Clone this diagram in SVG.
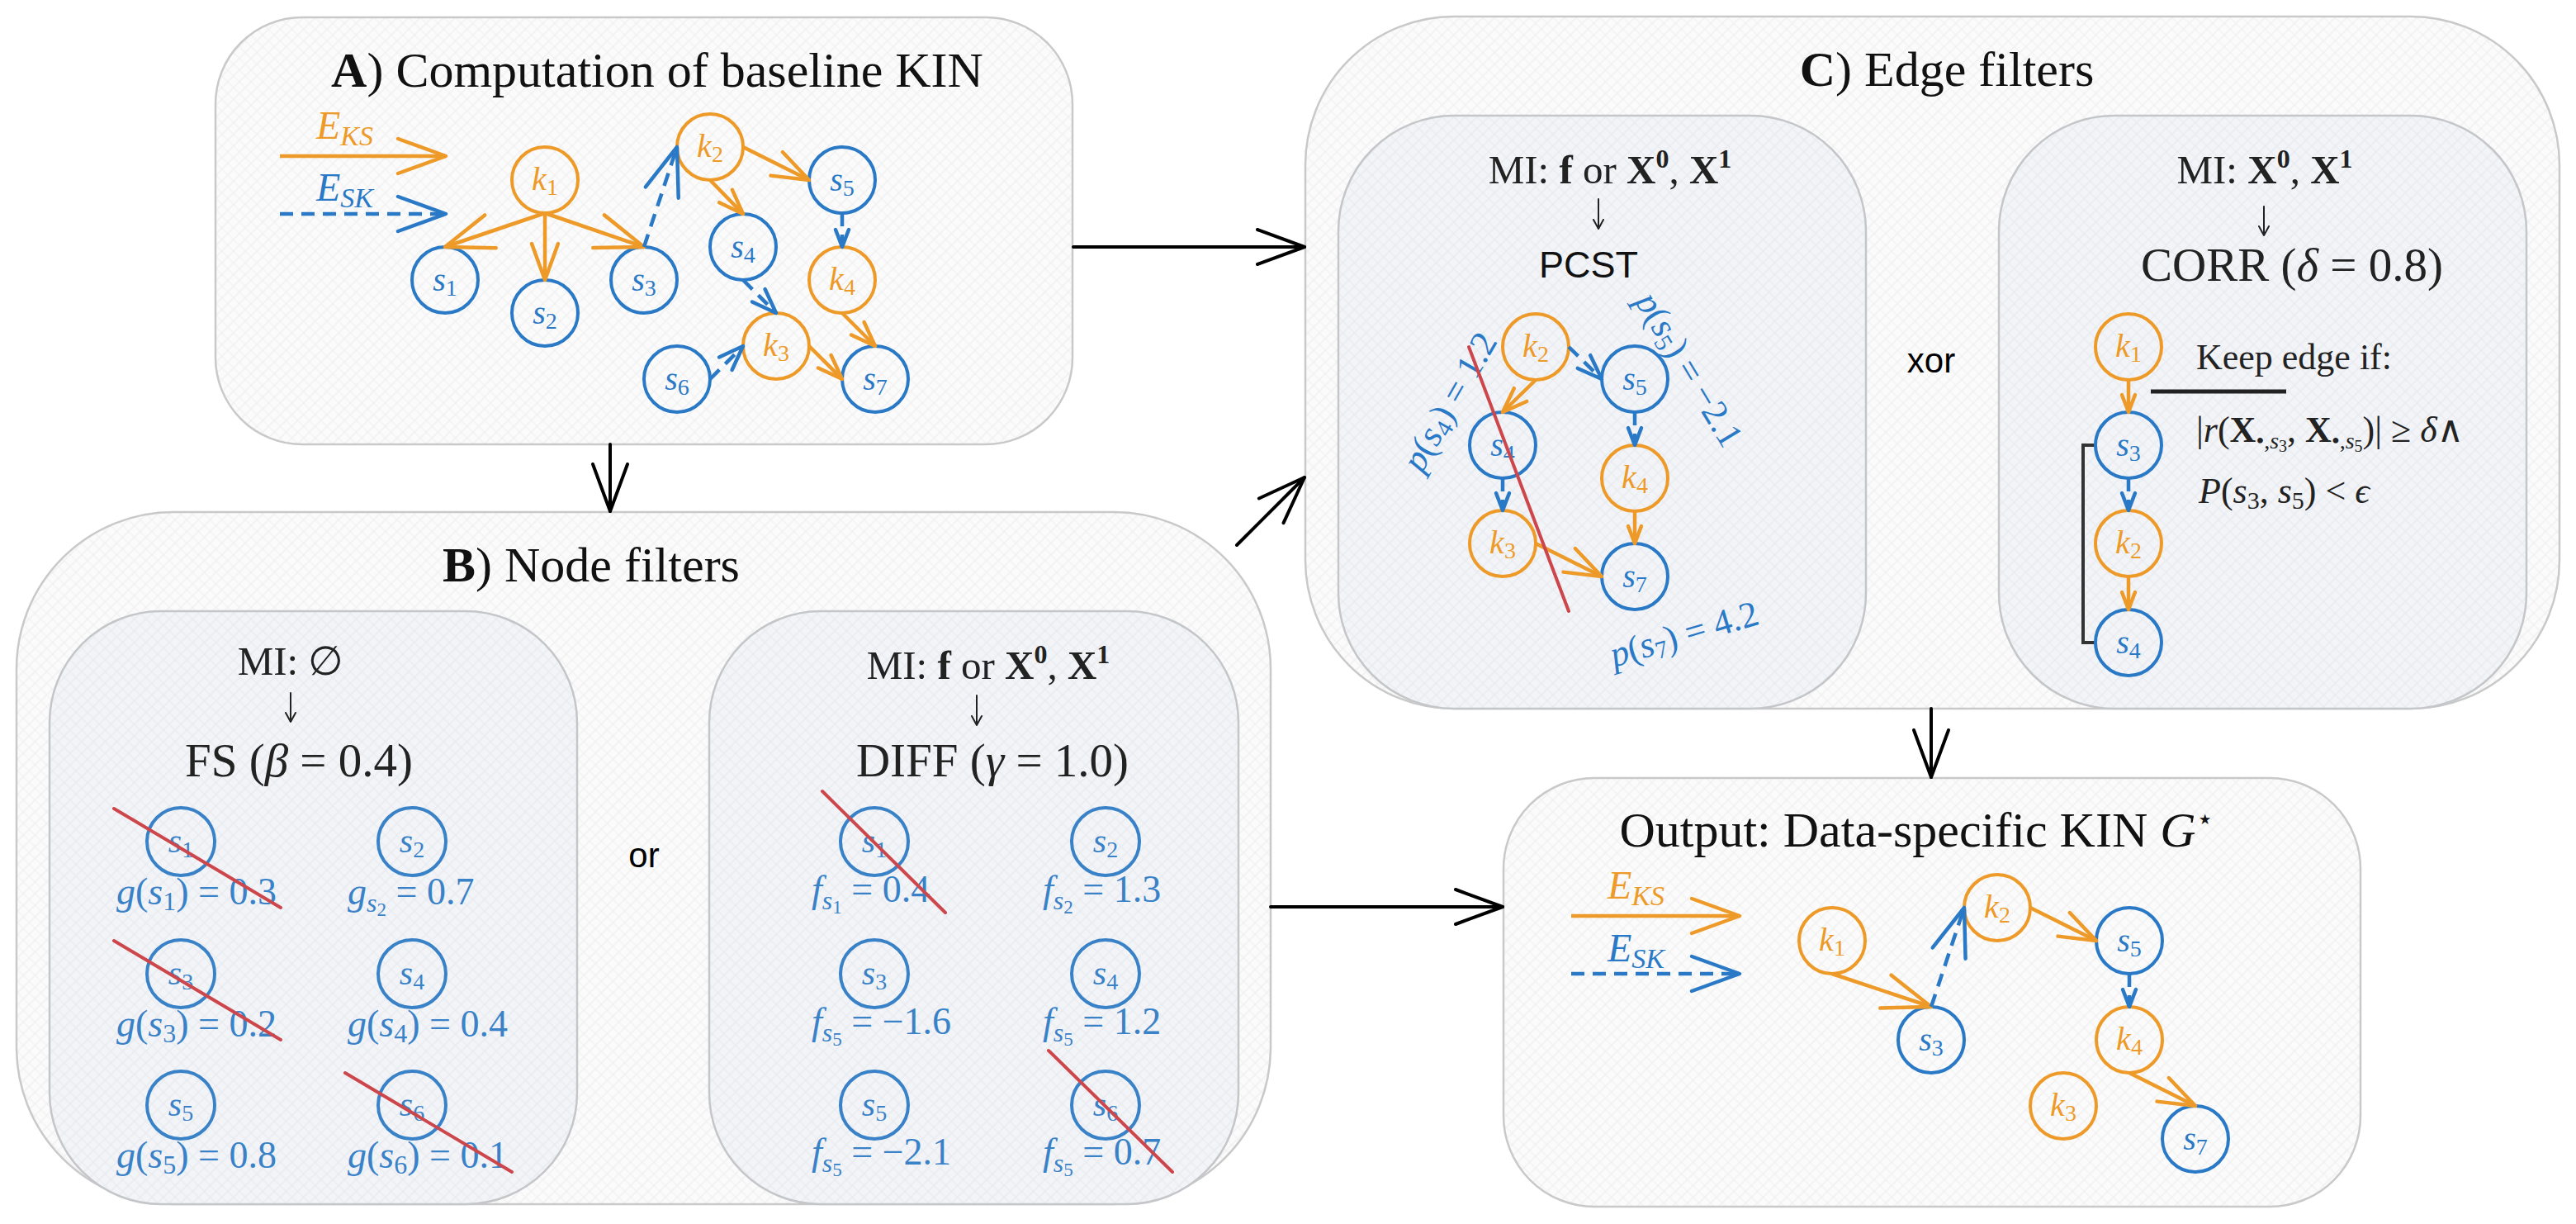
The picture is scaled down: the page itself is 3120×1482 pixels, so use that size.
<svg xmlns="http://www.w3.org/2000/svg" width="3120" height="1482" viewBox="0 0 3120 1482">
<defs>
<pattern id="hO" width="10" height="10" patternUnits="userSpaceOnUse" patternTransform="rotate(45)">
<rect width="10" height="10" fill="#fbfbfb"/>
<path d="M0,5H10M5,0V10" stroke="#efefef" stroke-width="1.2"/>
</pattern>
<pattern id="hI" width="10" height="10" patternUnits="userSpaceOnUse" patternTransform="rotate(45)">
<rect width="10" height="10" fill="#f2f4f7"/>
<path d="M0,5H10M5,0V10" stroke="#e6e9ee" stroke-width="1.2"/>
</pattern>
<marker id="oL" markerUnits="userSpaceOnUse" orient="auto" viewBox="-70 -30 80 60" markerWidth="80" markerHeight="60" refX="0" refY="0"><path class="mo" d="M-58,-21L0,0L-58,21"/></marker>
<marker id="oM" markerUnits="userSpaceOnUse" orient="auto" viewBox="-70 -30 80 60" markerWidth="80" markerHeight="60" refX="0" refY="0"><path class="mo" d="M-44,-16L0,0L-44,16"/></marker>
<marker id="oS2" markerUnits="userSpaceOnUse" orient="auto" viewBox="-70 -30 80 60" markerWidth="80" markerHeight="60" refX="0" refY="0"><path class="mo" d="M-30,-11L0,0L-30,11"/></marker>
<marker id="oS" markerUnits="userSpaceOnUse" orient="auto" viewBox="-70 -30 80 60" markerWidth="80" markerHeight="60" refX="0" refY="0"><path class="mo" d="M-21,-8L0,0L-21,8"/></marker>
<marker id="bL" markerUnits="userSpaceOnUse" orient="auto" viewBox="-70 -30 80 60" markerWidth="80" markerHeight="60" refX="0" refY="0"><path class="mb" d="M-58,-21L0,0L-58,21"/></marker>
<marker id="bM" markerUnits="userSpaceOnUse" orient="auto" viewBox="-70 -30 80 60" markerWidth="80" markerHeight="60" refX="0" refY="0"><path class="mb" d="M-44,-16L0,0L-44,16"/></marker>
<marker id="bS2" markerUnits="userSpaceOnUse" orient="auto" viewBox="-70 -30 80 60" markerWidth="80" markerHeight="60" refX="0" refY="0"><path class="mb" d="M-30,-11L0,0L-30,11"/></marker>
<marker id="bS" markerUnits="userSpaceOnUse" orient="auto" viewBox="-70 -30 80 60" markerWidth="80" markerHeight="60" refX="0" refY="0"><path class="mb" d="M-21,-8L0,0L-21,8"/></marker>
<marker id="kL" markerUnits="userSpaceOnUse" orient="auto" viewBox="-70 -30 80 60" markerWidth="80" markerHeight="60" refX="0" refY="0"><path class="mk" d="M-57,-21L0,0L-57,21"/></marker>
<style>
.pO{fill:url(#hO);stroke:#c9c9c9;stroke-width:2.5}
.pI{fill:url(#hI);stroke:#c4c6c9;stroke-width:2.5}
.mo{fill:none;stroke:#EE9A28;stroke-width:4.5;stroke-linecap:round;stroke-linejoin:round}
.mb{fill:none;stroke:#2A79C6;stroke-width:4.5;stroke-linecap:round;stroke-linejoin:round}
.mk{fill:none;stroke:#000;stroke-width:4;stroke-linecap:round;stroke-linejoin:round}
.eo{fill:none;stroke:#EE9A28;stroke-width:4.5}
.eb{fill:none;stroke:#2A79C6;stroke-width:4.5;stroke-dasharray:16 10}
.ck{fill:none;stroke:#000;stroke-width:4;stroke-linecap:round}
.strike{stroke:#CD464B;stroke-width:4;stroke-linecap:round}
.sans{font-family:"Liberation Sans",Arial,sans-serif}
.ttl{font-family:"Liberation Serif","DejaVu Serif",serif;font-size:60px;fill:#111;text-anchor:middle}
.mi{font-family:"Liberation Serif","DejaVu Serif",serif;font-size:49px;fill:#222;text-anchor:middle}
.st{font-family:"Liberation Serif","DejaVu Serif",serif;font-size:57px;fill:#222;text-anchor:middle}
.kn circle{fill:none;stroke:#EE9A28;stroke-width:4}
.sn circle{fill:none;stroke:#2A79C6;stroke-width:4}
.bn circle{fill:none;stroke:#3A82C8;stroke-width:4}
.kn text,.sn text,.bn text{font-family:"Liberation Serif","DejaVu Serif",serif;font-size:40px;text-anchor:middle}
.kn text{fill:#EE9A28}
.sn text{fill:#2A79C6}
.bn text{fill:#3A82C8;font-size:42px}
.it{font-style:italic}
.sb{font-size:28px}
.lgo{font-family:"Liberation Serif",serif;font-size:48px;fill:#EE9A28;font-style:italic}
.lgb{font-family:"Liberation Serif",serif;font-size:48px;fill:#2A79C6;font-style:italic}
.bl{font-family:"Liberation Serif","DejaVu Serif",serif;font-size:46px;fill:#3A82C8}
.pl{font-family:"Liberation Serif","DejaVu Serif",serif;font-size:44px;fill:#2A79C6;text-anchor:middle}
.cm{font-family:"Liberation Serif","DejaVu Serif",serif;font-size:44px;fill:#222}
.sa{fill:none;stroke:#222;stroke-width:2;stroke-linecap:round;stroke-linejoin:round}
</style>
</defs>

<!-- Panels -->
<g id="panel-A">
<rect class="pO" x="261" y="21" width="1038" height="517" rx="105"/>
<text class="ttl" x="796" y="105"><tspan font-weight="bold">A</tspan>) Computation of baseline KIN</text>
<line class="eo" x1="339" y1="189" x2="540" y2="189" marker-end="url(#oL)"/>
<line class="eb" x1="339" y1="259" x2="540" y2="259" marker-end="url(#bL)"/>
<text class="lgo" x="383" y="168">E<tspan font-size="34" dy="8">KS</tspan></text>
<text class="lgb" x="383" y="243">E<tspan font-size="34" dy="8">SK</tspan></text>
</g>

<g id="panel-B">
<rect class="pO" x="20" y="620" width="1519" height="838" rx="190"/>
<text class="ttl" x="716" y="704"><tspan font-weight="bold">B</tspan>) Node filters</text>
<text class="sans" x="780" y="1050" font-size="42" text-anchor="middle" fill="#000">or</text>
</g>

<g id="panel-FS">
<rect class="pI" x="60" y="740" width="639" height="718" rx="135"/>
<text class="mi" x="352" y="817">MI: ∅</text>
<path class="sa" d="M352,839V874M346,863L352,874L358,863"/>
<text class="st" x="362" y="940">FS (<tspan class="it">β</tspan> = 0.4)</text>
<text class="bl" x="141" y="1095"><tspan class="it">g</tspan>(<tspan class="it">s</tspan><tspan font-size="32" dy="7">1</tspan><tspan dy="-7">) = 0.3</tspan></text>
<text class="bl" x="421" y="1095"><tspan class="it">g</tspan><tspan class="it" font-size="32" dy="9">s</tspan><tspan font-size="23" dy="5">2</tspan><tspan dy="-14"> = 0.7</tspan></text>
<text class="bl" x="141" y="1255"><tspan class="it">g</tspan>(<tspan class="it">s</tspan><tspan font-size="32" dy="7">3</tspan><tspan dy="-7">) = 0.2</tspan></text>
<text class="bl" x="421" y="1255"><tspan class="it">g</tspan>(<tspan class="it">s</tspan><tspan font-size="32" dy="7">4</tspan><tspan dy="-7">) = 0.4</tspan></text>
<text class="bl" x="141" y="1414"><tspan class="it">g</tspan>(<tspan class="it">s</tspan><tspan font-size="32" dy="7">5</tspan><tspan dy="-7">) = 0.8</tspan></text>
<text class="bl" x="421" y="1414"><tspan class="it">g</tspan>(<tspan class="it">s</tspan><tspan font-size="32" dy="7">6</tspan><tspan dy="-7">) = 0.1</tspan></text>
</g>

<g id="panel-DIFF">
<rect class="pI" x="859" y="740" width="641" height="718" rx="135"/>
<text class="mi" x="1197" y="822">MI: <tspan font-weight="bold">f</tspan> or <tspan font-weight="bold">X</tspan><tspan font-weight="bold" font-size="32" dy="-19">0</tspan><tspan dy="19">, </tspan><tspan font-weight="bold">X</tspan><tspan font-weight="bold" font-size="32" dy="-19">1</tspan></text>
<path class="sa" d="M1183,842V878M1177,867L1183,878L1189,867"/>
<text class="st" x="1202" y="940">DIFF (<tspan class="it">γ</tspan> = 1.0)</text>
<text class="bl" x="983" y="1092"><tspan class="it">f</tspan><tspan class="it" font-size="32" dy="9">s</tspan><tspan font-size="23" dy="5">1</tspan><tspan dy="-14"> = 0.4</tspan></text>
<text class="bl" x="1263" y="1092"><tspan class="it">f</tspan><tspan class="it" font-size="32" dy="9">s</tspan><tspan font-size="23" dy="5">2</tspan><tspan dy="-14"> = 1.3</tspan></text>
<text class="bl" x="983" y="1252"><tspan class="it">f</tspan><tspan class="it" font-size="32" dy="9">s</tspan><tspan font-size="23" dy="5">5</tspan><tspan dy="-14"> = −1.6</tspan></text>
<text class="bl" x="1263" y="1252"><tspan class="it">f</tspan><tspan class="it" font-size="32" dy="9">s</tspan><tspan font-size="23" dy="5">5</tspan><tspan dy="-14"> = 1.2</tspan></text>
<text class="bl" x="983" y="1410"><tspan class="it">f</tspan><tspan class="it" font-size="32" dy="9">s</tspan><tspan font-size="23" dy="5">5</tspan><tspan dy="-14"> = −2.1</tspan></text>
<text class="bl" x="1263" y="1410"><tspan class="it">f</tspan><tspan class="it" font-size="32" dy="9">s</tspan><tspan font-size="23" dy="5">5</tspan><tspan dy="-14"> = 0.7</tspan></text>
</g>

<g id="panel-C">
<rect class="pO" x="1581" y="20" width="1519" height="838" rx="180"/>
<text class="ttl" x="2358" y="104"><tspan font-weight="bold">C</tspan>) Edge filters</text>
<text class="sans" x="2339" y="451" font-size="42" text-anchor="middle" fill="#000">xor</text>
</g>

<g id="panel-PCST">
<rect class="pI" x="1621" y="140" width="639" height="718" rx="140"/>
<text class="mi" x="1950" y="222">MI: <tspan font-weight="bold">f</tspan> or <tspan font-weight="bold">X</tspan><tspan font-weight="bold" font-size="32" dy="-19">0</tspan><tspan dy="19">, </tspan><tspan font-weight="bold">X</tspan><tspan font-weight="bold" font-size="32" dy="-19">1</tspan></text>
<path class="sa" d="M1936,241V277M1930,266L1936,277L1942,266"/>
<text class="sans" x="1924" y="336" font-size="45" text-anchor="middle" fill="#111">PCST</text>
<text class="pl" transform="translate(1757,487) rotate(-60)" y="13"><tspan class="it">p</tspan>(<tspan class="it">s</tspan><tspan font-size="30" dy="6">4</tspan><tspan dy="-6">) = 1.2</tspan></text>
<text class="pl" transform="translate(2045,448) rotate(59)" y="13"><tspan class="it">p</tspan>(<tspan class="it">s</tspan><tspan font-size="30" dy="6">5</tspan><tspan dy="-6">) = −2.1</tspan></text>
<text class="pl" transform="translate(2040,769) rotate(-16.5)" y="13"><tspan class="it">p</tspan>(<tspan class="it">s</tspan><tspan font-size="30" dy="6">7</tspan><tspan dy="-6">) = 4.2</tspan></text>
</g>

<g id="panel-CORR">
<rect class="pI" x="2421" y="140" width="639" height="718" rx="140"/>
<text class="mi" x="2743" y="222">MI: <tspan font-weight="bold">X</tspan><tspan font-weight="bold" font-size="32" dy="-19">0</tspan><tspan dy="19">, </tspan><tspan font-weight="bold">X</tspan><tspan font-weight="bold" font-size="32" dy="-19">1</tspan></text>
<path class="sa" d="M2742,250V285M2736,274L2742,285L2748,274"/>
<text class="st" x="2776" y="340">CORR (<tspan class="it">δ</tspan> = 0.8)</text>
<text class="cm" x="2660" y="447">Keep edge if:</text>
<line x1="2605" y1="474" x2="2769" y2="474" stroke="#222" stroke-width="5"/>
<text class="cm" x="2660" y="535">|<tspan class="it">r</tspan>(<tspan font-weight="bold">X</tspan><tspan font-size="28" dy="8">•,</tspan><tspan class="it" font-size="28">s</tspan><tspan font-size="20" dy="4">3</tspan><tspan dy="-12">, </tspan><tspan font-weight="bold">X</tspan><tspan font-size="28" dy="8">•,</tspan><tspan class="it" font-size="28">s</tspan><tspan font-size="20" dy="4">5</tspan><tspan dy="-12">)| ≥ </tspan><tspan class="it">δ</tspan>∧</text>
<text class="cm" x="2663" y="609"><tspan class="it">P</tspan>(<tspan class="it">s</tspan><tspan font-size="30" dy="7">3</tspan><tspan dy="-7">, </tspan><tspan class="it">s</tspan><tspan font-size="30" dy="7">5</tspan><tspan dy="-7">) &lt; </tspan><tspan class="it">ϵ</tspan></text>
<path d="M2538,539H2523V778H2538" fill="none" stroke="#333" stroke-width="4"/>
</g>

<g id="panel-Output">
<rect class="pO" x="1821" y="942" width="1038" height="519" rx="110"/>
<text class="ttl" x="2321" y="1025">Output: Data-specific KIN <tspan class="it">G</tspan><tspan font-size="34" dy="-22">⋆</tspan></text>
<line class="eo" x1="1903" y1="1109" x2="2107" y2="1109" marker-end="url(#oL)"/>
<line class="eb" x1="1903" y1="1179" x2="2107" y2="1179" marker-end="url(#bL)"/>
<text class="lgo" x="1947" y="1088">E<tspan font-size="34" dy="8">KS</tspan></text>
<text class="lgb" x="1947" y="1164">E<tspan font-size="34" dy="8">SK</tspan></text>
</g>

<!-- Nodes: panel A -->
<g id="A-k1" class="kn"><circle cx="660" cy="218" r="40"/><text x="660" y="230"><tspan class="it">k</tspan><tspan class="sb" dy="6">1</tspan></text></g>
<g id="A-s1" class="sn"><circle cx="539" cy="339" r="40"/><text x="539" y="352"><tspan class="it">s</tspan><tspan class="sb" dy="6">1</tspan></text></g>
<g id="A-s2" class="sn"><circle cx="660" cy="379" r="40"/><text x="660" y="392"><tspan class="it">s</tspan><tspan class="sb" dy="6">2</tspan></text></g>
<g id="A-s3" class="sn"><circle cx="780" cy="339" r="40"/><text x="780" y="352"><tspan class="it">s</tspan><tspan class="sb" dy="6">3</tspan></text></g>
<g id="A-k2" class="kn"><circle cx="860" cy="178" r="40"/><text x="860" y="190"><tspan class="it">k</tspan><tspan class="sb" dy="6">2</tspan></text></g>
<g id="A-s4" class="sn"><circle cx="900" cy="299" r="40"/><text x="900" y="312"><tspan class="it">s</tspan><tspan class="sb" dy="6">4</tspan></text></g>
<g id="A-s5" class="sn"><circle cx="1020" cy="218" r="40"/><text x="1020" y="231"><tspan class="it">s</tspan><tspan class="sb" dy="6">5</tspan></text></g>
<g id="A-k4" class="kn"><circle cx="1020" cy="339" r="40"/><text x="1020" y="351"><tspan class="it">k</tspan><tspan class="sb" dy="6">4</tspan></text></g>
<g id="A-k3" class="kn"><circle cx="940" cy="419" r="40"/><text x="940" y="431"><tspan class="it">k</tspan><tspan class="sb" dy="6">3</tspan></text></g>
<g id="A-s6" class="sn"><circle cx="820" cy="459" r="40"/><text x="820" y="472"><tspan class="it">s</tspan><tspan class="sb" dy="6">6</tspan></text></g>
<g id="A-s7" class="sn"><circle cx="1060" cy="459" r="40"/><text x="1060" y="472"><tspan class="it">s</tspan><tspan class="sb" dy="6">7</tspan></text></g>

<!-- Nodes: FS -->
<g id="FS-s1" class="bn"><circle cx="219" cy="1019" r="41"/><text x="219" y="1032"><tspan class="it">s</tspan><tspan class="sb" dy="6">1</tspan></text></g>
<g id="FS-s2" class="bn"><circle cx="499" cy="1019" r="41"/><text x="499" y="1032"><tspan class="it">s</tspan><tspan class="sb" dy="6">2</tspan></text></g>
<g id="FS-s3" class="bn"><circle cx="219" cy="1179" r="41"/><text x="219" y="1192"><tspan class="it">s</tspan><tspan class="sb" dy="6">3</tspan></text></g>
<g id="FS-s4" class="bn"><circle cx="499" cy="1179" r="41"/><text x="499" y="1192"><tspan class="it">s</tspan><tspan class="sb" dy="6">4</tspan></text></g>
<g id="FS-s5" class="bn"><circle cx="219" cy="1338" r="41"/><text x="219" y="1351"><tspan class="it">s</tspan><tspan class="sb" dy="6">5</tspan></text></g>
<g id="FS-s6" class="bn"><circle cx="499" cy="1338" r="41"/><text x="499" y="1351"><tspan class="it">s</tspan><tspan class="sb" dy="6">6</tspan></text></g>

<!-- Nodes: DIFF -->
<g id="DIFF-s1" class="bn"><circle cx="1059" cy="1019" r="41"/><text x="1059" y="1032"><tspan class="it">s</tspan><tspan class="sb" dy="6">1</tspan></text></g>
<g id="DIFF-s2" class="bn"><circle cx="1339" cy="1019" r="41"/><text x="1339" y="1032"><tspan class="it">s</tspan><tspan class="sb" dy="6">2</tspan></text></g>
<g id="DIFF-s3" class="bn"><circle cx="1059" cy="1179" r="41"/><text x="1059" y="1192"><tspan class="it">s</tspan><tspan class="sb" dy="6">3</tspan></text></g>
<g id="DIFF-s4" class="bn"><circle cx="1339" cy="1179" r="41"/><text x="1339" y="1192"><tspan class="it">s</tspan><tspan class="sb" dy="6">4</tspan></text></g>
<g id="DIFF-s5" class="bn"><circle cx="1059" cy="1338" r="41"/><text x="1059" y="1351"><tspan class="it">s</tspan><tspan class="sb" dy="6">5</tspan></text></g>
<g id="DIFF-s6" class="bn"><circle cx="1339" cy="1338" r="41"/><text x="1339" y="1351"><tspan class="it">s</tspan><tspan class="sb" dy="6">6</tspan></text></g>

<!-- Nodes: PCST -->
<g id="PCST-k2" class="kn"><circle cx="1860" cy="420" r="40"/><text x="1860" y="432"><tspan class="it">k</tspan><tspan class="sb" dy="6">2</tspan></text></g>
<g id="PCST-s5" class="sn"><circle cx="1980" cy="459" r="40"/><text x="1980" y="472"><tspan class="it">s</tspan><tspan class="sb" dy="6">5</tspan></text></g>
<g id="PCST-s4" class="sn"><circle cx="1820" cy="539" r="40"/><text x="1820" y="552"><tspan class="it">s</tspan><tspan class="sb" dy="6">4</tspan></text></g>
<g id="PCST-k4" class="kn"><circle cx="1980" cy="579" r="40"/><text x="1980" y="591"><tspan class="it">k</tspan><tspan class="sb" dy="6">4</tspan></text></g>
<g id="PCST-k3" class="kn"><circle cx="1820" cy="658" r="40"/><text x="1820" y="670"><tspan class="it">k</tspan><tspan class="sb" dy="6">3</tspan></text></g>
<g id="PCST-s7" class="sn"><circle cx="1980" cy="698" r="40"/><text x="1980" y="711"><tspan class="it">s</tspan><tspan class="sb" dy="6">7</tspan></text></g>

<!-- Nodes: CORR -->
<g id="CORR-k1" class="kn"><circle cx="2578" cy="420" r="40"/><text x="2578" y="432"><tspan class="it">k</tspan><tspan class="sb" dy="6">1</tspan></text></g>
<g id="CORR-s3" class="sn"><circle cx="2578" cy="539" r="40"/><text x="2578" y="552"><tspan class="it">s</tspan><tspan class="sb" dy="6">3</tspan></text></g>
<g id="CORR-k2" class="kn"><circle cx="2578" cy="658" r="40"/><text x="2578" y="670"><tspan class="it">k</tspan><tspan class="sb" dy="6">2</tspan></text></g>
<g id="CORR-s4" class="sn"><circle cx="2578" cy="778" r="40"/><text x="2578" y="791"><tspan class="it">s</tspan><tspan class="sb" dy="6">4</tspan></text></g>

<!-- Nodes: Output -->
<g id="O-k1" class="kn"><circle cx="2219" cy="1139" r="40"/><text x="2219" y="1151"><tspan class="it">k</tspan><tspan class="sb" dy="6">1</tspan></text></g>
<g id="O-s3" class="sn"><circle cx="2339" cy="1259" r="40"/><text x="2339" y="1272"><tspan class="it">s</tspan><tspan class="sb" dy="6">3</tspan></text></g>
<g id="O-k2" class="kn"><circle cx="2419" cy="1099" r="40"/><text x="2419" y="1111"><tspan class="it">k</tspan><tspan class="sb" dy="6">2</tspan></text></g>
<g id="O-s5" class="sn"><circle cx="2579" cy="1139" r="40"/><text x="2579" y="1152"><tspan class="it">s</tspan><tspan class="sb" dy="6">5</tspan></text></g>
<g id="O-k4" class="kn"><circle cx="2579" cy="1259" r="40"/><text x="2579" y="1271"><tspan class="it">k</tspan><tspan class="sb" dy="6">4</tspan></text></g>
<g id="O-k3" class="kn"><circle cx="2499" cy="1339" r="40"/><text x="2499" y="1351"><tspan class="it">k</tspan><tspan class="sb" dy="6">3</tspan></text></g>
<g id="O-s7" class="sn"><circle cx="2659" cy="1379" r="40"/><text x="2659" y="1392"><tspan class="it">s</tspan><tspan class="sb" dy="6">7</tspan></text></g>

<!-- Connectors -->
<g id="connectors">
<line class="ck" x1="1300" y1="299" x2="1580" y2="299" marker-end="url(#kL)"/>
<line class="ck" x1="739" y1="538" x2="739" y2="619" marker-end="url(#kL)"/>
<line class="ck" x1="1498" y1="660" x2="1580" y2="578" marker-end="url(#kL)"/>
<line class="ck" x1="1539" y1="1098" x2="1820" y2="1098" marker-end="url(#kL)"/>
<line class="ck" x1="2339" y1="858" x2="2339" y2="941" marker-end="url(#kL)"/>
<!-- A graph -->
<line class="eo" x1="660" y1="258" x2="539" y2="299" marker-end="url(#oL)"/>
<line class="eo" x1="660" y1="258" x2="660" y2="339" marker-end="url(#oM)"/>
<line class="eo" x1="660" y1="258" x2="780" y2="299" marker-end="url(#oL)"/>
<line class="eb" x1="780" y1="299" x2="820" y2="178" marker-end="url(#bL)"/>
<line class="eo" x1="860" y1="218" x2="900" y2="259" marker-end="url(#oS2)"/>
<line class="eo" x1="900" y1="178" x2="980" y2="218" marker-end="url(#oM)"/>
<line class="eb" x1="1020" y1="258" x2="1020" y2="299" marker-end="url(#bS)"/>
<line class="eb" x1="900" y1="339" x2="940" y2="379" marker-end="url(#bS2)"/>
<line class="eo" x1="1020" y1="379" x2="1060" y2="419" marker-end="url(#oS2)"/>
<line class="eb" x1="860" y1="459" x2="900" y2="419" marker-end="url(#bS2)"/>
<line class="eo" x1="980" y1="419" x2="1020" y2="459" marker-end="url(#oS2)"/>
<!-- PCST graph -->
<line class="eb" x1="1900" y1="420" x2="1940" y2="459" marker-end="url(#bS2)"/>
<line class="eo" x1="1860" y1="460" x2="1820" y2="499" marker-end="url(#oS2)"/>
<line class="eb" x1="1980" y1="499" x2="1980" y2="539" marker-end="url(#bS)"/>
<line class="eb" x1="1820" y1="579" x2="1820" y2="618" marker-end="url(#bS)"/>
<line class="eo" x1="1980" y1="619" x2="1980" y2="658" marker-end="url(#oS)"/>
<line class="eo" x1="1860" y1="658" x2="1940" y2="698" marker-end="url(#oM)"/>
<!-- CORR graph -->
<line class="eo" x1="2578" y1="460" x2="2578" y2="499" marker-end="url(#oS)"/>
<line class="eb" x1="2578" y1="579" x2="2578" y2="618" marker-end="url(#bS)"/>
<line class="eo" x1="2578" y1="698" x2="2578" y2="738" marker-end="url(#oS)"/>
<!-- Output graph -->
<line class="eo" x1="2219" y1="1179" x2="2339" y2="1219" marker-end="url(#oL)"/>
<line class="eb" x1="2339" y1="1219" x2="2379" y2="1099" marker-end="url(#bL)"/>
<line class="eo" x1="2459" y1="1099" x2="2539" y2="1139" marker-end="url(#oM)"/>
<line class="eb" x1="2579" y1="1179" x2="2579" y2="1219" marker-end="url(#bS)"/>
<line class="eo" x1="2579" y1="1299" x2="2659" y2="1339" marker-end="url(#oM)"/>
</g>

<!-- Strike-through marks -->
<g id="strikes">
<line class="strike" x1="138" y1="979" x2="340" y2="1099"/>
<line class="strike" x1="138" y1="1139" x2="340" y2="1259"/>
<line class="strike" x1="418" y1="1299" x2="620" y2="1419"/>
<line class="strike" x1="996" y1="958" x2="1145" y2="1105"/>
<line class="strike" x1="1270" y1="1272" x2="1420" y2="1419"/>
<line class="strike" x1="1779" y1="420" x2="1900" y2="740"/>
</g>
</svg>
